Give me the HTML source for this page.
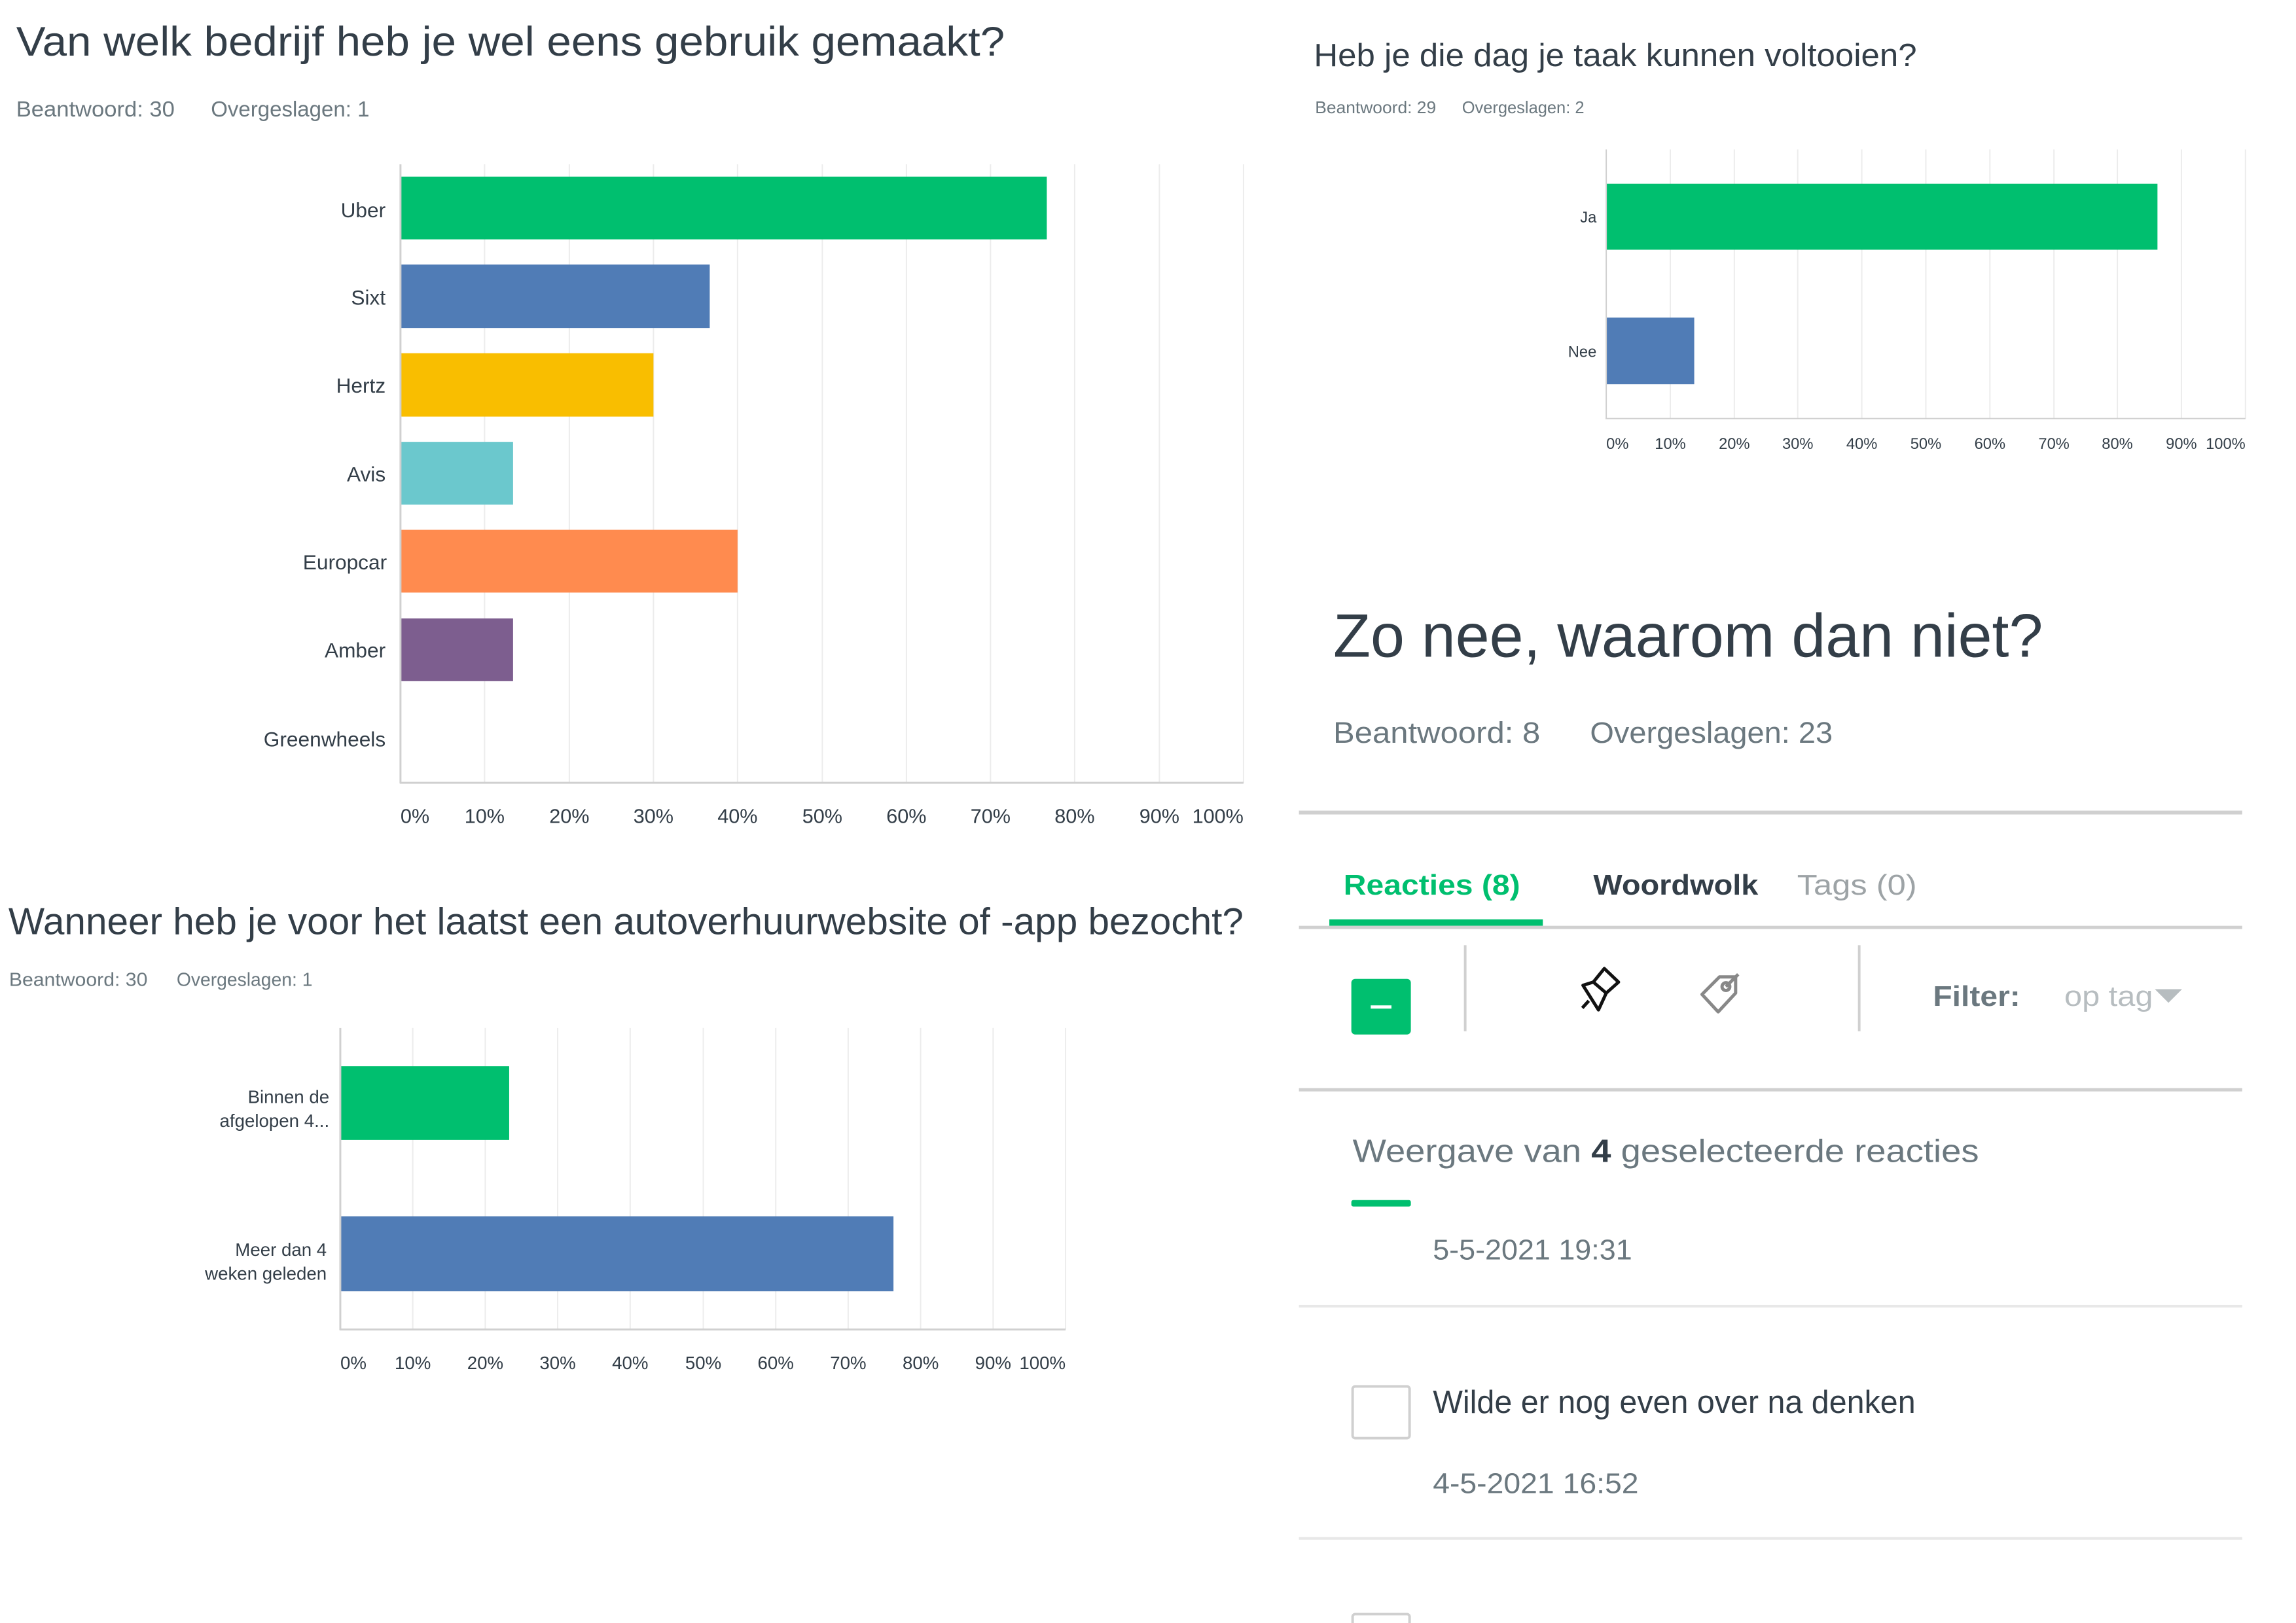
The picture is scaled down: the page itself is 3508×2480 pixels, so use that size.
<!DOCTYPE html>
<html><head><meta charset="utf-8"><style>
html,body{margin:0;padding:0;background:#fff;}
svg{display:block;}
text{font-family:"Liberation Sans",sans-serif;}
</style></head><body>
<svg width="3508" height="2480" viewBox="0 0 3508 2480" xmlns="http://www.w3.org/2000/svg">
<rect width="3508" height="2480" fill="#fff"/>

<!-- Chart 1 -->
<g transform="scale(0.9885)">
<text x="25" y="86" font-size="64" fill="#333e48" textLength="1528" lengthAdjust="spacingAndGlyphs">Van welk bedrijf heb je wel eens gebruik gemaakt?</text>
<text x="25" y="180" font-size="34" fill="#6b787f" textLength="245" lengthAdjust="spacingAndGlyphs">Beantwoord: 30</text>
<text x="326" y="180" font-size="34" fill="#6b787f" textLength="245" lengthAdjust="spacingAndGlyphs">Overgeslagen: 1</text>
<g stroke="#ececec" stroke-width="2">
<line x1="749" y1="254" x2="749" y2="1210"/><line x1="880" y1="254" x2="880" y2="1210"/><line x1="1010" y1="254" x2="1010" y2="1210"/><line x1="1140" y1="254" x2="1140" y2="1210"/><line x1="1271" y1="254" x2="1271" y2="1210"/><line x1="1401" y1="254" x2="1401" y2="1210"/><line x1="1531" y1="254" x2="1531" y2="1210"/><line x1="1661" y1="254" x2="1661" y2="1210"/><line x1="1792" y1="254" x2="1792" y2="1210"/><line x1="1922" y1="254" x2="1922" y2="1210"/>
</g>
<rect x="619" y="273" width="999" height="97" fill="#00bf6f"/>
<rect x="619" y="409" width="478" height="98" fill="#507cb6"/>
<rect x="619" y="546" width="391" height="98" fill="#f9be00"/>
<rect x="619" y="683" width="174" height="97" fill="#6bc8cd"/>
<rect x="619" y="819" width="521" height="97" fill="#ff8b4f"/>
<rect x="619" y="956" width="174" height="97" fill="#7d5e8f"/>
<line x1="619" y1="254" x2="619" y2="1211" stroke="#d0d0d0" stroke-width="3"/>
<line x1="618" y1="1210" x2="1922" y2="1210" stroke="#d0d0d0" stroke-width="3"/>
<g font-size="32" fill="#333e48" text-anchor="end">
<text x="596" y="336">Uber</text><text x="596" y="471">Sixt</text><text x="596" y="607">Hertz</text><text x="596" y="744">Avis</text><text x="598" y="880">Europcar</text><text x="596" y="1016">Amber</text><text x="596" y="1154">Greenwheels</text>
</g>
<g font-size="31" fill="#333e48" text-anchor="middle">
<text x="619" y="1272" text-anchor="start">0%</text><text x="749" y="1272">10%</text><text x="880" y="1272">20%</text><text x="1010" y="1272">30%</text><text x="1140" y="1272">40%</text><text x="1271" y="1272">50%</text><text x="1401" y="1272">60%</text><text x="1531" y="1272">70%</text><text x="1661" y="1272">80%</text><text x="1792" y="1272">90%</text><text x="1922" y="1272" text-anchor="end">100%</text>
</g>
</g>

<!-- Chart 2 + Zo nee -->
<g transform="translate(1950,0) scale(0.9885) translate(-1950,0)">
<text x="2008" y="102" font-size="50" fill="#333e48" textLength="932" lengthAdjust="spacingAndGlyphs">Heb je die dag je taak kunnen voltooien?</text>
<text x="2010" y="175" font-size="26" fill="#6b787f" textLength="187" lengthAdjust="spacingAndGlyphs">Beantwoord: 29</text>
<text x="2237" y="175" font-size="26" fill="#6b787f" textLength="189" lengthAdjust="spacingAndGlyphs">Overgeslagen: 2</text>
<g stroke="#ececec" stroke-width="2">
<line x1="2559" y1="231" x2="2559" y2="647"/><line x1="2658" y1="231" x2="2658" y2="647"/><line x1="2756" y1="231" x2="2756" y2="647"/><line x1="2855" y1="231" x2="2855" y2="647"/><line x1="2954" y1="231" x2="2954" y2="647"/><line x1="3053" y1="231" x2="3053" y2="647"/><line x1="3152" y1="231" x2="3152" y2="647"/><line x1="3250" y1="231" x2="3250" y2="647"/><line x1="3349" y1="231" x2="3349" y2="647"/><line x1="3448" y1="231" x2="3448" y2="647"/>
</g>
<rect x="2460" y="284" width="852" height="102" fill="#00bf6f"/>
<rect x="2460" y="491" width="136" height="103" fill="#507cb6"/>
<line x1="2460" y1="231" x2="2460" y2="648" stroke="#d0d0d0" stroke-width="2"/>
<line x1="2459" y1="647" x2="3448" y2="647" stroke="#d0d0d0" stroke-width="2"/>
<g font-size="24" fill="#333e48" text-anchor="end">
<text x="2445" y="344">Ja</text><text x="2445" y="552">Nee</text>
</g>
<g font-size="24" fill="#333e48" text-anchor="middle">
<text x="2460" y="694" text-anchor="start">0%</text><text x="2559" y="694">10%</text><text x="2658" y="694">20%</text><text x="2756" y="694">30%</text><text x="2855" y="694">40%</text><text x="2954" y="694">50%</text><text x="3053" y="694">60%</text><text x="3152" y="694">70%</text><text x="3250" y="694">80%</text><text x="3349" y="694">90%</text><text x="3448" y="694" text-anchor="end">100%</text>
</g>
<text x="2038" y="1015" font-size="95" fill="#333e48" textLength="1097" lengthAdjust="spacingAndGlyphs">Zo nee, waarom dan niet?</text>
<text x="2038" y="1148" font-size="46" fill="#6b787f" textLength="320" lengthAdjust="spacingAndGlyphs">Beantwoord: 8</text>
<text x="2435" y="1148" font-size="46" fill="#6b787f" textLength="375" lengthAdjust="spacingAndGlyphs">Overgeslagen: 23</text>
<rect x="1985" y="1253" width="1458" height="6" fill="#d0d0d0"/>
</g>

<!-- Responses panel -->
<g transform="translate(1950,1300) scale(0.9885) translate(-1950,-1300)">
<text x="2054" y="1368" font-size="44" font-weight="bold" fill="#00bf6f" textLength="273" lengthAdjust="spacingAndGlyphs">Reacties (8)</text>
<text x="2440" y="1368" font-size="44" font-weight="bold" fill="#333e48" textLength="255" lengthAdjust="spacingAndGlyphs">Woordwolk</text>
<text x="2755" y="1368" font-size="44" fill="#9da3a6" textLength="185" lengthAdjust="spacingAndGlyphs">Tags (0)</text>
<rect x="2032" y="1406" width="330" height="10" fill="#00bf6f"/>
<rect x="1985" y="1416" width="1458" height="5" fill="#d0d0d0"/>
<rect x="2066" y="1498" width="92" height="86" rx="6" fill="#00bf6f"/>
<rect x="2096" y="1539" width="32" height="5" fill="#fff"/>
<rect x="2240" y="1446" width="4" height="133" fill="#d0d0d0"/>
<rect x="2849" y="1446" width="4" height="133" fill="#d0d0d0"/>
<g fill="none" stroke="#111" stroke-width="5" stroke-linejoin="round">
<path d="M2457 1482 L2479 1503 L2460 1520 L2440 1503 Z"/>
<path d="M2440 1503 L2424 1508 L2448 1546 L2460 1520"/>
<line x1="2433" y1="1532" x2="2423" y2="1543"/>
</g>
<g fill="none" stroke="#888" stroke-width="5" stroke-linejoin="round">
<path d="M2608 1522 L2635 1495 L2660 1495 L2660 1520 L2633 1549 Z"/>
<circle cx="2645" cy="1510" r="6"/>
<line x1="2645" y1="1510" x2="2664" y2="1491"/>
</g>
<text x="2965" y="1540" font-size="44" font-weight="bold" fill="#6b787f" textLength="135" lengthAdjust="spacingAndGlyphs">Filter:</text>
<text x="3168" y="1540" font-size="44" fill="#b7bdc0" textLength="137" lengthAdjust="spacingAndGlyphs">op tag</text>
<path d="M3308 1514 L3350 1514 L3329 1535 Z" fill="#b7bdc0"/>
<rect x="1985" y="1667" width="1458" height="5" fill="#d0d0d0"/>
<text x="2068" y="1781" font-size="50" fill="#6b787f" textLength="968" lengthAdjust="spacingAndGlyphs">Weergave van <tspan font-weight="bold" fill="#333e48">4</tspan> geselecteerde reacties</text>
<rect x="2066" y="1840" width="92" height="10" rx="3" fill="#00bf6f"/>
<text x="2192" y="1932" font-size="44" fill="#6b787f" textLength="308" lengthAdjust="spacingAndGlyphs">5-5-2021 19:31</text>
<rect x="1985" y="2002" width="1458" height="4" fill="#e8e8e8"/>
<rect x="2068" y="2128" width="88" height="80" rx="4" fill="none" stroke="#d0d0d0" stroke-width="4"/>
<text x="2192" y="2169" font-size="50" fill="#333e48" textLength="746" lengthAdjust="spacingAndGlyphs">Wilde er nog even over na denken</text>
<text x="2192" y="2293" font-size="44" fill="#6b787f" textLength="318" lengthAdjust="spacingAndGlyphs">4-5-2021 16:52</text>
<rect x="1985" y="2361" width="1458" height="4" fill="#e8e8e8"/>
<rect x="2068" y="2480" width="88" height="40" rx="4" fill="none" stroke="#d0d0d0" stroke-width="4"/>
</g>

<!-- Chart 3 -->
<g transform="translate(0,1300) scale(0.9885) translate(0,-1300)">
<text x="13" y="1429" font-size="58" fill="#333e48" textLength="1909" lengthAdjust="spacingAndGlyphs">Wanneer heb je voor het laatst een autoverhuurwebsite of -app bezocht?</text>
<text x="14" y="1509" font-size="29" fill="#6b787f" textLength="214" lengthAdjust="spacingAndGlyphs">Beantwoord: 30</text>
<text x="273" y="1509" font-size="29" fill="#6b787f" textLength="210" lengthAdjust="spacingAndGlyphs">Overgeslagen: 1</text>
<g stroke="#ececec" stroke-width="2">
<line x1="638" y1="1574" x2="638" y2="2040"/><line x1="750" y1="1574" x2="750" y2="2040"/><line x1="862" y1="1574" x2="862" y2="2040"/><line x1="974" y1="1574" x2="974" y2="2040"/><line x1="1087" y1="1574" x2="1087" y2="2040"/><line x1="1199" y1="1574" x2="1199" y2="2040"/><line x1="1311" y1="1574" x2="1311" y2="2040"/><line x1="1423" y1="1574" x2="1423" y2="2040"/><line x1="1535" y1="1574" x2="1535" y2="2040"/><line x1="1647" y1="1574" x2="1647" y2="2040"/>
</g>
<rect x="526" y="1633" width="261" height="114" fill="#00bf6f"/>
<rect x="526" y="1865" width="855" height="116" fill="#507cb6"/>
<line x1="526" y1="1574" x2="526" y2="2041" stroke="#d0d0d0" stroke-width="3"/>
<line x1="525" y1="2040" x2="1647" y2="2040" stroke="#d0d0d0" stroke-width="3"/>
<g font-size="28" fill="#333e48" text-anchor="end">
<text x="509" y="1690">Binnen de</text><text x="509" y="1727">afgelopen 4...</text>
<text x="505" y="1926">Meer dan 4</text><text x="505" y="1963">weken geleden</text>
</g>
<g font-size="28" fill="#333e48" text-anchor="middle">
<text x="526" y="2101" text-anchor="start">0%</text><text x="638" y="2101">10%</text><text x="750" y="2101">20%</text><text x="862" y="2101">30%</text><text x="974" y="2101">40%</text><text x="1087" y="2101">50%</text><text x="1199" y="2101">60%</text><text x="1311" y="2101">70%</text><text x="1423" y="2101">80%</text><text x="1535" y="2101">90%</text><text x="1647" y="2101" text-anchor="end">100%</text>
</g>
</g>
</svg>
</body></html>
